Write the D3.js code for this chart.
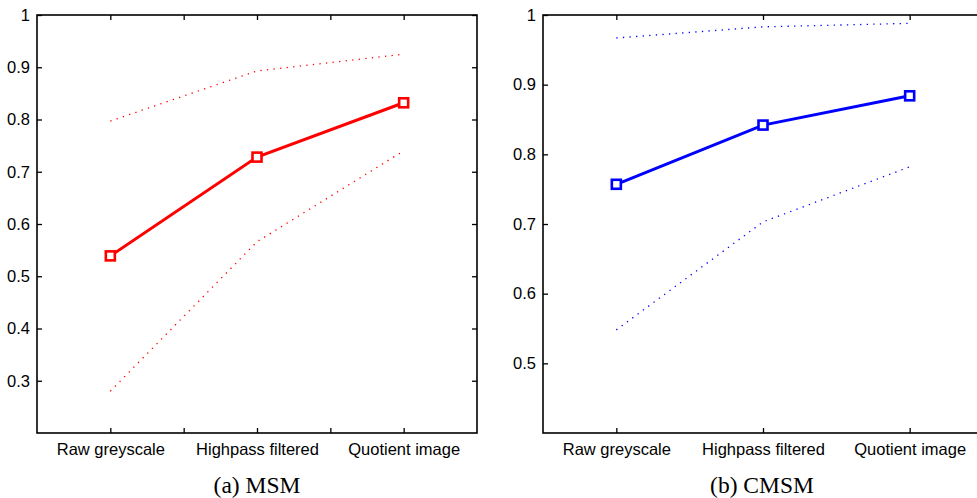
<!DOCTYPE html>
<html>

<head>
    <title>MSM / CMSM recognition rates</title>
    <style>
        body {
            margin: 0;
            background: #fff;
        }

        .tick text {
            font: 16.5px "Liberation Sans", Arial, sans-serif;
            fill: #000;
        }

        .caption {
            font: 23.5px "Liberation Serif", "Times New Roman", serif;
            fill: #000;
        }
    </style>
    <script src="https://d3js.org/d3.v7.min.js"></script>
</head>

<body>
    <svg width="977" height="498"></svg>

    <script>

        var categories = ["Raw greyscale", "Highpass filtered", "Quotient image"];

        // (a) MSM
        var msmMean = [0.539, 0.728, 0.832];
        var msmUpper = [0.797, 0.893, 0.925];
        var msmLower = [0.280, 0.566, 0.740];
        var msmYTicks = [0.3, 0.4, 0.5, 0.6, 0.7, 0.8, 0.9, 1];

        // (b) CMSM
        var cmsmMean = [0.757, 0.842, 0.884];
        var cmsmUpper = [0.967, 0.983, 0.988];
        var cmsmLower = [0.548, 0.703, 0.782];
        var cmsmYTicks = [0.5, 0.6, 0.7, 0.8, 0.9, 1];

        var svg = d3.select("svg");

        function drawPanel(p) {
            var g = svg.append("g");

            var x = d3.scaleLinear().domain([0.5, 3.5]).range([p.left, p.right]);
            var y = d3.scaleLinear().domain(p.yDomain).range([433, 15]);

            var xPos = function (d, i) { return x(i + 1); };

            // ticks inside the box (all four sides)
            g.append("g")
                .attr("transform", "translate(0,433)")
                .call(d3.axisBottom(x).tickValues(p.xTicks).tickSizeInner(-5).tickSizeOuter(0)
                    .tickFormat(function (v) { return Number.isInteger(v) ? categories[v - 1] : ""; })
                    .tickPadding(10));
            g.append("g")
                .attr("transform", "translate(0,15)")
                .call(d3.axisTop(x).tickValues(p.xTicks).tickSizeInner(-5).tickSizeOuter(0).tickFormat(""));
            g.append("g")
                .attr("transform", "translate(" + p.left + ",0)")
                .call(d3.axisLeft(y).tickValues(p.yTicks).tickSizeInner(-5).tickSizeOuter(0)
                    .tickFormat(function (v) { return v === 1 ? "1" : d3.format(".1f")(v); })
                    .tickPadding(7));
            g.append("g")
                .attr("transform", "translate(" + p.right + ",0)")
                .call(d3.axisRight(y).tickValues(p.yTicks).tickSizeInner(-5).tickSizeOuter(0).tickFormat(""));

            g.selectAll(".domain").remove();
            g.selectAll(".tick line").attr("stroke", "#000").attr("stroke-width", 1.3);

            g.append("rect")
                .attr("x", p.left).attr("y", 15)
                .attr("width", p.right - p.left).attr("height", 418)
                .attr("fill", "none").attr("stroke", "#000").attr("stroke-width", 1.6);

            var line = d3.line().x(xPos).y(function (d) { return y(d); });

            [p.upper, p.lower].forEach(function (arr) {
                g.append("path")
                    .attr("d", line(arr))
                    .attr("fill", "none")
                    .attr("stroke", p.color)
                    .attr("stroke-width", 1.3)
                    .attr("stroke-dasharray", "1.3,5.3");
            });

            g.append("path")
                .attr("d", line(p.mean))
                .attr("fill", "none")
                .attr("stroke", p.color)
                .attr("stroke-width", 3);

            g.selectAll(".marker")
                .data(p.mean)
                .enter().append("rect")
                .attr("class", "marker")
                .attr("x", function (d, i) { return xPos(d, i) - 4.5; })
                .attr("y", function (d) { return y(d) - 4.5; })
                .attr("width", 9).attr("height", 9)
                .attr("fill", "#fff")
                .attr("stroke", p.color)
                .attr("stroke-width", 2.6);

            svg.append("text")
                .attr("class", "caption")
                .attr("x", p.captionX).attr("y", 493)
                .attr("text-anchor", "middle")
                .text(p.caption);
        }

        drawPanel({
            left: 37, right: 477, yDomain: [0.2, 1], yTicks: msmYTicks,
            xTicks: [1, 1.5, 2, 2.5, 3],
            mean: msmMean, upper: msmUpper, lower: msmLower,
            color: "#ff0000", caption: "(a) MSM", captionX: 257
        });

        drawPanel({
            left: 543, right: 983, yDomain: [0.4, 1], yTicks: cmsmYTicks,
            xTicks: [1, 2, 3],
            mean: cmsmMean, upper: cmsmUpper, lower: cmsmLower,
            color: "#0000ff", caption: "(b) CMSM", captionX: 762
        });

    </script>

</body>

</html>
